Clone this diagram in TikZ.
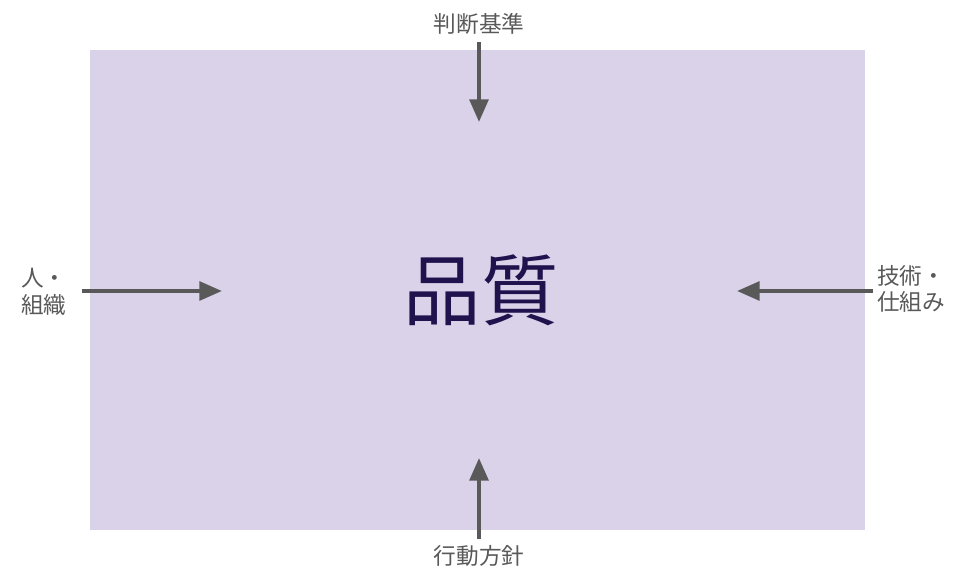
\documentclass[tikz,border=0pt]{standalone}
\usepackage{fontspec}
\newfontfamily\jpfont{Noto Sans CJK JP}
\usetikzlibrary{arrows.meta}
\definecolor{lpurple}{HTML}{D9D2E9}
\definecolor{dpurple}{HTML}{20124D}
\definecolor{dgray}{HTML}{595959}
\tikzstyle{none}=[inner sep=0pt]
\tikzstyle{field}=[rectangle,fill=lpurple,draw=none,minimum width=581.25pt,minimum height=360pt,inner sep=0pt]
\tikzstyle{title}=[text=dpurple,font=\jpfont\fontsize{58}{60}\selectfont]
\tikzstyle{factor}=[inner sep=0pt,text=dgray,align=left,font=\jpfont\fontsize{17}{20}\selectfont]
\tikzstyle{inarrow}=[-{Triangle[length=17pt,width=14pt]},line width=3pt,draw=dgray]

\begin{document}
\begin{tikzpicture}[x=0.75pt,y=-0.75pt]
	\useasboundingbox (0,0) rectangle (960,580);
	\node [style=field] (Q) at (477.5, 290) {};
	\node [style=title] (quality) at (481, 290) {品質};

	\node [style=factor] (judge) at (479, 24) {判断基準};
	\node [style=factor] (action) at (479, 556) {行動方針};
	\node [style=factor,anchor=west] (people) at (21, 292) {人・\\組織};
	\node [style=factor,anchor=west] (tech) at (877, 289) {技術・\\仕組み};

	\coordinate (ttail) at (479, 42);
	\coordinate (ttip) at (479, 122);
	\coordinate (btail) at (479, 539);
	\coordinate (btip) at (479, 458);
	\coordinate (ltail) at (82, 291);
	\coordinate (ltip) at (222, 291);
	\coordinate (rtail) at (873, 291);
	\coordinate (rtip) at (737, 291);

	\draw [style=inarrow] (ttail) to (ttip);
	\draw [style=inarrow] (btail) to (btip);
	\draw [style=inarrow] (ltail) to (ltip);
	\draw [style=inarrow] (rtail) to (rtip);
\end{tikzpicture}
\end{document}
